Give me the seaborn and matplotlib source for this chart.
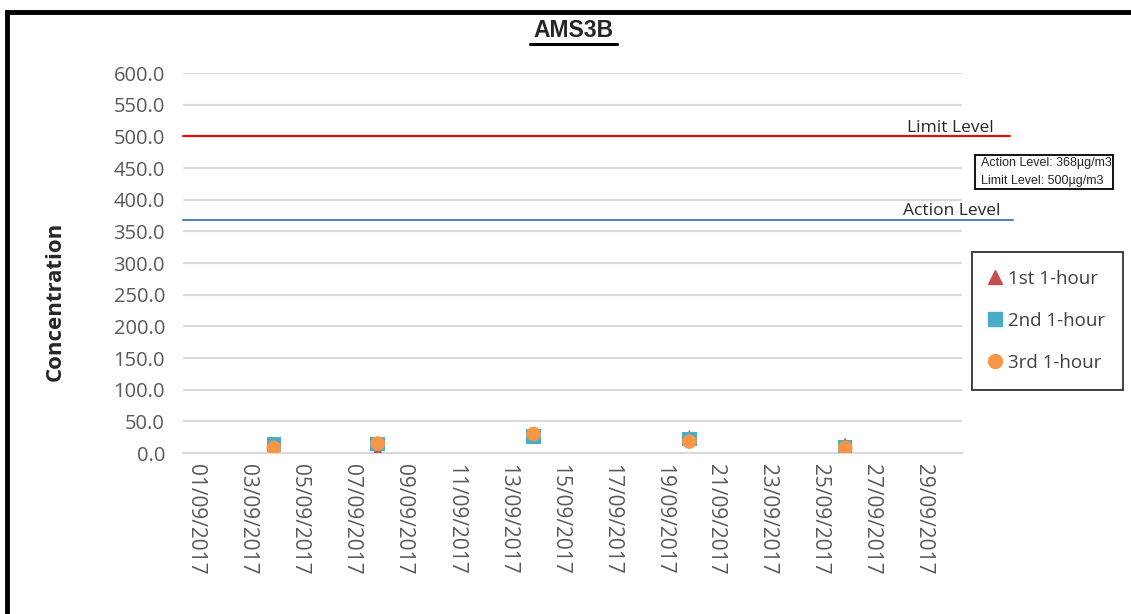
import matplotlib
matplotlib.use('Agg')
import matplotlib.pyplot as plt
import matplotlib.dates as mdates
from matplotlib.lines import Line2D
from matplotlib.patches import Rectangle
import seaborn as sns
import pandas as pd

# sampling dates and the three 1-hour TSP readings (ug/m3)
dates = ['2017-09-04', '2017-09-08', '2017-09-14', '2017-09-20', '2017-09-26']
first_hour = [15.0, 2.0, 28.0, 25.0, 13.0]
second_hour = [13.0, 14.0, 26.0, 22.0, 9.0]
third_hour = [8.0, 15.0, 30.0, 18.0, 8.0]
series_names = ['1st 1-hour', '2nd 1-hour', '3rd 1-hour']

action_level = 368
limit_level = 500

colors = {'1st 1-hour': '#C0504D', '2nd 1-hour': '#4BACC6', '3rd 1-hour': '#F79646'}
markers = {'1st 1-hour': '^', '2nd 1-hour': 's', '3rd 1-hour': 'o'}

df = pd.DataFrame({
    'date': pd.to_datetime(dates * 3),
    'value': first_hour + second_hour + third_hour,
    'series': [s for s in series_names for _ in dates],
})

sns.set_style('white')
plt.rcParams['font.family'] = ['Open Sans', 'DejaVu Sans']
ARIAL = ['Liberation Sans', 'DejaVu Sans']

fig = plt.figure(figsize=(11.31, 6.14), dpi=100)
ax = fig.add_axes([0.1618, 0.2622, 0.6888, 0.6189])

for name in series_names:
    sub = df[df['series'] == name]
    sns.scatterplot(data=sub, x='date', y='value', ax=ax, marker=markers[name],
                    color=colors[name], s=110, edgecolor='none', legend=False, zorder=3)

# reference lines run a little past the plot area
ax.axhline(limit_level, xmin=0, xmax=1.062, color='#FF0000', lw=1.5, clip_on=False, zorder=2)
ax.axhline(action_level, xmin=0, xmax=1.065, color='#4F81BD', lw=1.5, clip_on=False, zorder=2)
ax.text(0.985, limit_level + 1, 'Limit Level', transform=ax.get_yaxis_transform(),
        fontsize=12.5, va='bottom', ha='center')
ax.text(0.987, action_level + 1, 'Action Level', transform=ax.get_yaxis_transform(),
        fontsize=12.5, va='bottom', ha='center')

ax.set_ylim(0, 600)
ax.set_yticks(range(0, 601, 50))
ax.yaxis.set_major_formatter(matplotlib.ticker.FormatStrFormatter('%.1f'))
ax.set_xlim(pd.Timestamp('2017-08-31 12:00'), pd.Timestamp('2017-09-30 12:00'))
ax.set_xticks(pd.date_range('2017-09-01', '2017-09-29', freq='2D'))
ax.xaxis.set_major_formatter(mdates.DateFormatter('%d/%m/%Y'))
ax.tick_params(axis='x', labelrotation=-90, labelsize=15, length=0, pad=8)
ax.tick_params(axis='y', labelsize=14.5, length=0, pad=13)
for lbl in ax.get_xticklabels() + ax.get_yticklabels():
    lbl.set_color('#595959')

ax.grid(axis='y', color='#D9D9D9', lw=1.5)
ax.set_axisbelow(True)
for side in ['top', 'right', 'left']:
    ax.spines[side].set_visible(False)
ax.spines['bottom'].set_color('#D9D9D9')
ax.spines['bottom'].set_linewidth(1.5)

ax.set_xlabel('')
ax.set_ylabel('Concentration', fontsize=16, fontweight='bold')
ax.yaxis.set_label_coords(-0.150, 0.40)

# title with underline
fig.text(0.5075, 0.950, 'AMS3B', fontsize=16.5, fontweight='bold', ha='center', va='center',
         family=ARIAL)
fig.add_artist(Line2D([0.4686, 0.5455], [0.928, 0.928], color='black', lw=2.2))

# small info box
fig.add_artist(Rectangle((975 / 1131, 1 - 189 / 614), 138 / 1131, 34 / 614, fill=False,
                         edgecolor='black', lw=1.3))
fig.text(981 / 1131, 1 - 163 / 614, 'Action Level: 368\u00b5g/m3', fontsize=9, va='center', family=ARIAL)
fig.text(981 / 1131, 1 - 181 / 614, 'Limit Level: 500\u00b5g/m3', fontsize=9, va='center', family=ARIAL)

# legend
handles = [Line2D([], [], marker=markers[n], color=colors[n], ls='none', markersize=10) for n in series_names]
leg = fig.legend(handles, series_names, loc='upper left', bbox_to_anchor=(972 / 1131, 1 - 252 / 614),
                 frameon=True, handlelength=0.6, handletextpad=0.35, labelspacing=1.28,
                 borderpad=0.95, borderaxespad=0, fancybox=False, prop={'size': 13.5})
leg.get_frame().set_edgecolor('black')
leg.get_frame().set_linewidth(1.3)
for t in leg.get_texts():
    t.set_color('#404040')

# outer chart border (top and left visible)
fig.add_artist(Rectangle((7 / 1131, -0.1), 1.2, 1 - 12 / 614 + 0.1, fill=False,
                         edgecolor='black', lw=3.5))

fig.savefig('out.png', dpi=100)
plt.close(fig)
